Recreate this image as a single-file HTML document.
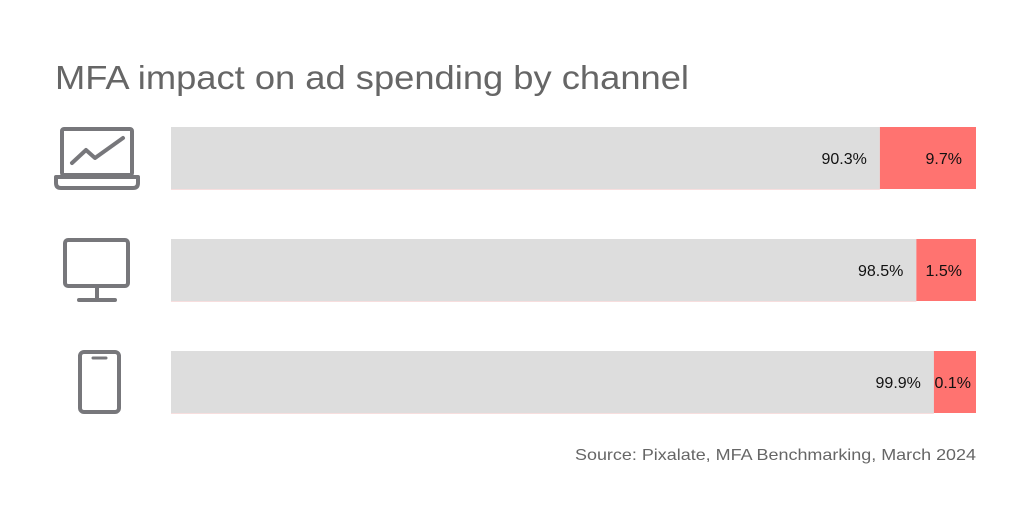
<!DOCTYPE html>
<html><head><meta charset="utf-8"><style>
body{margin:0;background:#fff;width:1030px;height:520px;overflow:hidden;font-family:"Liberation Sans",sans-serif}
</style></head><body>
<svg width="1030" height="520" viewBox="0 0 1030 520">
<text x="55" y="89" font-size="33" fill="#666" textLength="634" lengthAdjust="spacingAndGlyphs">MFA impact on ad spending by channel</text>
<g fill="none" stroke="#77777b" stroke-width="4" stroke-linejoin="round" stroke-linecap="round">
 <g>
  <rect x="62" y="129" width="70" height="46" rx="2"/>
  <path d="M56 177 H138 V183 Q138 188 133 188 H61 Q56 188 56 183 Z"/>
  <path d="M72 163 L86 150 L95 158 L123 138"/>
 </g>
 <g>
  <rect x="65" y="240" width="63" height="46" rx="3"/>
  <path d="M97 287 V300 M79 300 H115"/>
 </g>
 <g>
  <rect x="80" y="352" width="39" height="60" rx="4"/>
  <path d="M93 358 H106" stroke-width="3"/>
 </g>
</g>
<g id="bars"></g>
<text x="976" y="460" font-size="16" fill="#666" text-anchor="end" textLength="401" lengthAdjust="spacingAndGlyphs">Source: Pixalate, MFA Benchmarking, March 2024</text>
</svg>
<script>
const channels=["Laptop","Desktop","Mobile"];
const cleanValues=[90.3,98.5,99.9];
const mfaValues=[9.7,1.5,0.1];
const NS="http://www.w3.org/2000/svg";
const g=document.getElementById("bars");
const x0=171,x1=976,barH=62,top0=127,step=112;
function mfaWidth(v){return 36+19.3*Math.sqrt(v);}
function mk(tag,attrs){const e=document.createElementNS(NS,tag);for(const k in attrs)e.setAttribute(k,attrs[k]);return e;}
channels.forEach((c,i)=>{
 const y=top0+i*step;
 const rw=mfaWidth(mfaValues[i]);
 const split=x1-rw;
 const bg=mk("rect",{x:x0,y:y,width:split-x0,height:barH,fill:"#dddddd"});
 
 
 g.appendChild(bg);
 const rd=mk("rect",{x:split,y:y,width:rw,height:barH,fill:"#ff7370"});
 
 
 g.appendChild(rd);
 const ln=mk("rect",{x:x0,y:y+barH,width:split-x0,height:1,fill:"#f7dede"});
 
 
 g.appendChild(ln);
 const t1=mk("text",{x:split-13,y:y+37,"font-size":16,fill:"#111","text-anchor":"end"});
 t1.textContent=cleanValues[i].toFixed(1)+"%";
 
 
 g.appendChild(t1);
 const t2=mk("text",{x:x1-(mfaValues[i]<1?5:14),y:y+37,"font-size":16,fill:"#111","text-anchor":"end"});
 t2.textContent=mfaValues[i].toFixed(1)+"%";
 
 
 g.appendChild(t2);
});
</script>
</body></html>
